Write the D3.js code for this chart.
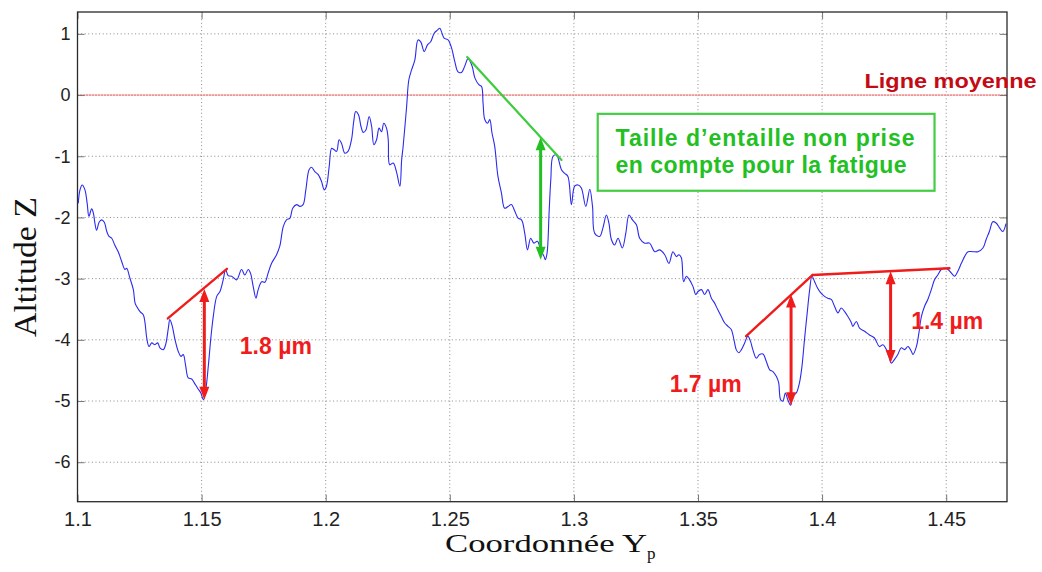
<!DOCTYPE html>
<html><head><meta charset="utf-8">
<script src="https://cdn.jsdelivr.net/npm/d3@7"></script>
<style>body{margin:0;background:#fff}svg{display:block}</style>
</head><body><svg id="c" width="1042" height="572"></svg>
<script>
// ---------- data ----------
const coordY = [1.1003,1.1010,1.1019,1.1030,1.1039,1.1046,1.1057,1.1064,1.1070,1.1077,1.1087,1.1097,1.1108,1.1118,1.1127,1.1138,1.1151,1.1164,1.1178,1.1191,1.1198,1.1211,1.1225,1.1232,1.1238,1.1252,1.1265,1.1272,1.1279,1.1288,1.1299,1.1312,1.1323,1.1332,1.1346,1.1355,1.1366,1.1372,1.1382,1.1393,1.1406,1.1417,1.1426,1.1436,1.1446,1.1460,1.1470,1.1484,1.1497,1.1507,1.1517,1.1527,1.1538,1.1547,1.1561,1.1574,1.1587,1.1597,1.1607,1.1621,1.1641,1.1661,1.1674,1.1688,1.1697,1.1708,1.1719,1.1728,1.1742,1.1755,1.1768,1.1782,1.1802,1.1815,1.1829,1.1842,1.1856,1.1867,1.1883,1.1896,1.1909,1.1920,1.1933,1.1943,1.1956,1.1970,1.1983,1.1994,1.2003,1.2014,1.2024,1.2033,1.2044,1.2054,1.2064,1.2077,1.2090,1.2104,1.2113,1.2121,1.2132,1.2142,1.2151,1.2162,1.2175,1.2185,1.2194,1.2205,1.2215,1.2225,1.2234,1.2245,1.2252,1.2258,1.2272,1.2285,1.2299,1.2306,1.2312,1.2326,1.2335,1.2346,1.2359,1.2372,1.2383,1.2397,1.2410,1.2423,1.2437,1.2450,1.2460,1.2466,1.2477,1.2493,1.2507,1.2520,1.2533,1.2547,1.2560,1.2574,1.2590,1.2601,1.2617,1.2628,1.2634,1.2641,1.2652,1.2661,1.2670,1.2681,1.2694,1.2708,1.2721,1.2735,1.2748,1.2762,1.2775,1.2789,1.2802,1.2813,1.2826,1.2839,1.2853,1.2866,1.2880,1.2885,1.2892,1.2900,1.2907,1.2916,1.2930,1.2950,1.2963,1.2976,1.2990,1.3003,1.3017,1.3030,1.3048,1.3064,1.3075,1.3084,1.3104,1.3117,1.3131,1.3141,1.3151,1.3164,1.3178,1.3195,1.3209,1.3222,1.3236,1.3252,1.3265,1.3285,1.3305,1.3326,1.3346,1.3366,1.3383,1.3399,1.3413,1.3423,1.3433,1.3442,1.3453,1.3466,1.3480,1.3491,1.3500,1.3514,1.3527,1.3540,1.3554,1.3567,1.3580,1.3594,1.3607,1.3621,1.3634,1.3645,1.3654,1.3664,1.3675,1.3688,1.3701,1.3712,1.3721,1.3735,1.3748,1.3762,1.3775,1.3789,1.3802,1.3816,1.3825,1.3833,1.3842,1.3852,1.3862,1.3873,1.3882,1.3896,1.3909,1.3919,1.3929,1.3940,1.3950,1.3959,1.3970,1.3981,1.3994,1.4010,1.4023,1.4037,1.4050,1.4064,1.4077,1.4091,1.4104,1.4118,1.4124,1.4138,1.4151,1.4171,1.4191,1.4211,1.4231,1.4245,1.4259,1.4269,1.4279,1.4292,1.4305,1.4319,1.4332,1.4346,1.4360,1.4366,1.4380,1.4390,1.4400,1.4413,1.4426,1.4440,1.4453,1.4466,1.4480,1.4493,1.4507,1.4521,1.4534,1.4547,1.4561,1.4574,1.4588,1.4608,1.4628,1.4648,1.4661,1.4674,1.4688,1.4701,1.4715,1.4728,1.4741];
const altitudeZ = [-1.77,-1.55,-1.47,-1.55,-1.77,-1.98,-1.86,-1.93,-2.09,-2.21,-2.08,-2.04,-2.08,-2.23,-2.31,-2.34,-2.46,-2.56,-2.72,-2.85,-2.83,-2.99,-3.18,-3.40,-3.45,-3.54,-3.59,-3.72,-3.97,-4.11,-4.05,-4.08,-4.05,-4.13,-4.16,-4.08,-3.81,-3.67,-3.78,-4.00,-4.19,-4.27,-4.24,-4.43,-4.62,-4.64,-4.70,-4.79,-4.87,-4.98,-4.81,-4.43,-3.94,-3.62,-3.29,-3.21,-3.02,-2.85,-2.95,-2.96,-3.02,-2.85,-2.94,-2.85,-2.91,-3.13,-3.32,-3.18,-3.05,-3.06,-2.91,-2.75,-2.61,-2.47,-2.15,-2.04,-2.01,-1.85,-1.79,-1.82,-1.79,-1.55,-1.22,-1.18,-1.25,-1.30,-1.41,-1.55,-1.49,-1.17,-0.87,-0.89,-0.92,-0.73,-0.79,-0.95,-0.92,-0.73,-0.43,-0.27,-0.32,-0.51,-0.61,-0.57,-0.35,-0.51,-0.81,-0.73,-0.54,-0.60,-0.46,-0.54,-0.73,-1.14,-1.11,-1.25,-1.49,-1.06,-0.84,-0.19,0.25,0.41,0.57,0.90,0.87,0.71,0.82,0.87,1.01,1.06,1.09,1.04,0.93,0.90,0.77,0.55,0.38,0.37,0.47,0.60,0.47,0.28,0.17,0.14,-0.13,-0.40,-0.46,-0.40,-0.62,-0.84,-1.33,-1.60,-1.85,-1.82,-1.79,-1.90,-2.01,-2.04,-2.26,-2.53,-2.34,-2.42,-2.39,-2.53,-2.64,-2.69,-2.58,-1.93,-1.38,-1.00,-0.98,-1.22,-1.28,-1.33,-1.79,-1.49,-1.47,-1.52,-1.82,-1.54,-1.82,-2.26,-2.31,-2.17,-1.96,-2.09,-2.36,-2.45,-2.34,-2.50,-2.26,-1.96,-2.04,-2.12,-2.34,-2.42,-2.42,-2.56,-2.53,-2.61,-2.75,-2.56,-2.64,-2.61,-2.66,-3.05,-2.96,-3.02,-3.13,-3.26,-3.21,-3.18,-3.26,-3.18,-3.32,-3.40,-3.51,-3.62,-3.72,-3.78,-3.83,-4.00,-4.16,-4.21,-4.16,-4.05,-3.94,-4.03,-4.16,-4.30,-4.24,-4.23,-4.35,-4.49,-4.52,-4.60,-4.70,-4.98,-5.00,-4.87,-4.98,-5.07,-4.92,-4.87,-4.70,-4.43,-4.00,-3.56,-3.18,-2.96,-3.05,-3.15,-3.23,-3.29,-3.32,-3.34,-3.45,-3.56,-3.48,-3.54,-3.62,-3.72,-3.78,-3.70,-3.81,-3.86,-3.92,-3.97,-4.11,-4.08,-4.16,-4.27,-4.38,-4.32,-4.24,-4.13,-4.16,-4.11,-4.19,-4.24,-4.11,-3.89,-3.62,-3.45,-3.34,-3.18,-3.02,-2.94,-2.85,-2.83,-2.85,-2.91,-2.96,-2.88,-2.75,-2.64,-2.56,-2.56,-2.56,-2.50,-2.36,-2.23,-2.07,-2.09,-2.17,-2.23,-2.10];

const xTicks = [1.1, 1.15, 1.2, 1.25, 1.3, 1.35, 1.4, 1.45];
const xTickLabels = ["1.1", "1.15", "1.2", "1.25", "1.3", "1.35", "1.4", "1.45"];
const yTicks = [-6, -5, -4, -3, -2, -1, 0, 1];
const yTickLabels = ["-6", "-5", "-4", "-3", "-2", "-1", "0", "1"];
const xDomain = [1.1, 1.4745];
const yDomain = [-6.645, 1.357];
const meanLevel = 0;

// annotations (data units)
const redSegments = [[1.1364, -3.65, 1.1602, -2.84], [1.3694, -3.94, 1.3962, -2.94], [1.3962, -2.94, 1.4513, -2.83]];
const redArrows = [[1.1511, -3.17, -4.98], [1.3875, -3.26, -5.07], [1.4276, -2.88, -4.38]];
const redLabels = ["1.8 µm", "1.7 µm", "1.4 µm"];
const redLabelAnchors = [[1.1654, -4.23], [1.3386, -4.85], [1.4359, -3.82]];
const greenSegment = [1.2570, 0.62, 1.2950, -1.06];
const greenArrow = [1.2866, -0.69, -2.69];
const greenBox = [1.3096, -0.307, 1.4453, -1.564];
const greenLines = ["Taille d’entaille non prise", "en compte pour la fatigue"];
const greenLineAnchors = [[1.3168, -0.84], [1.3168, -1.28]];
const meanLabel = "Ligne moyenne";
const meanLabelAnchor = [1.4171, 0.11];

// ---------- drawing ----------
const W = 1042, H = 572;
const m = {left: 77.5, top: 12, right: 35, bottom: 70.3};
const svg = d3.select("#c");
const x = d3.scaleLinear().domain(xDomain).range([m.left, W - m.right]);
const y = d3.scaleLinear().domain(yDomain).range([H - m.bottom, m.top]);
const sans = "'Liberation Sans', Arial, Helvetica, sans-serif";
const serif = "'Liberation Serif', 'Times New Roman', serif";

// grid
const grid = svg.append("g");
grid.selectAll(".gx").data(xTicks.slice(1)).join("line")
  .attr("x1", d => x(d)).attr("x2", d => x(d))
  .attr("y1", m.top).attr("y2", H - m.bottom)
  .attr("stroke", "#8a8a8a").attr("stroke-width", 1).attr("stroke-dasharray", "1,2.6");
grid.selectAll(".gy").data(yTicks.filter(d => d !== meanLevel)).join("line")
  .attr("y1", d => y(d)).attr("y2", d => y(d))
  .attr("x1", m.left).attr("x2", W - m.right)
  .attr("stroke", "#8a8a8a").attr("stroke-width", 1).attr("stroke-dasharray", "1,2.6");

// mean line
svg.append("line").attr("x1", m.left).attr("x2", W - m.right)
  .attr("y1", y(meanLevel)).attr("y2", y(meanLevel))
  .attr("stroke", "#f6b8b8").attr("stroke-width", 1.2);
svg.append("line").attr("x1", m.left).attr("x2", W - m.right)
  .attr("y1", y(meanLevel)).attr("y2", y(meanLevel))
  .attr("stroke", "#cc1111").attr("stroke-width", 1).attr("stroke-dasharray", "1,2");

// axes (ticks inside, labels)
const xAxis = d3.axisBottom(x).tickValues(xTicks).tickSize(-7).tickPadding(10)
  .tickFormat((d, i) => xTickLabels[i]);
const gx = svg.append("g").attr("transform", `translate(0,${H - m.bottom})`).call(xAxis);
gx.select(".domain").remove();
gx.selectAll(".tick line").attr("stroke", "#777");
gx.selectAll("text").attr("font-family", sans).attr("font-size", 20).attr("fill", "#222");
const xTop = d3.axisTop(x).tickValues(xTicks).tickSize(-7).tickFormat("");
const gxt = svg.append("g").attr("transform", `translate(0,${m.top})`).call(xTop);
gxt.select(".domain").remove(); gxt.selectAll(".tick line").attr("stroke", "#777");

const yAxis = d3.axisLeft(y).tickValues(yTicks).tickSize(-7).tickPadding(7)
  .tickFormat((d, i) => yTickLabels[i]);
const gy = svg.append("g").attr("transform", `translate(${m.left},0)`).call(yAxis);
gy.select(".domain").remove();
gy.selectAll(".tick line").attr("stroke", "#777");
gy.selectAll("text").attr("font-family", sans).attr("font-size", 18).attr("fill", "#222");
const yRight = d3.axisRight(y).tickValues(yTicks).tickSize(-7).tickFormat("");
const gyr = svg.append("g").attr("transform", `translate(${W - m.right},0)`).call(yRight);
gyr.select(".domain").remove(); gyr.selectAll(".tick line").attr("stroke", "#777");

// frame
svg.append("rect").attr("x", m.left).attr("y", m.top)
  .attr("width", W - m.left - m.right).attr("height", H - m.top - m.bottom)
  .attr("fill", "none").attr("stroke", "#2a2a2a").attr("stroke-width", 1.3);

// profile
const pts = coordY.map((v, i) => [v, altitudeZ[i]]);
svg.append("path").datum(pts)
  .attr("d", d3.line().x(d => x(d[0])).y(d => y(d[1])).curve(d3.curveCatmullRom.alpha(0.5)))
  .attr("fill", "none").attr("stroke", "#2a2af0").attr("stroke-width", 1.1);

// arrow helper
function dblArrow(g, ax, yt, yb, color) {
  const px = x(ax), pt = y(yt), pb = y(yb), hl = 13, hw = 5;
  g.append("line").attr("x1", px).attr("x2", px).attr("y1", pt + hl - 1).attr("y2", pb - hl + 1)
    .attr("stroke", color).attr("stroke-width", 3);
  g.append("path").attr("d", `M${px},${pt}L${px - hw},${pt + hl}L${px + hw},${pt + hl}Z`).attr("fill", color);
  g.append("path").attr("d", `M${px},${pb}L${px - hw},${pb - hl}L${px + hw},${pb - hl}Z`).attr("fill", color);
}

const red = "#f01c1c";
const ann = svg.append("g");
ann.selectAll(".rs").data(redSegments).join("line")
  .attr("x1", d => x(d[0])).attr("y1", d => y(d[1])).attr("x2", d => x(d[2])).attr("y2", d => y(d[3]))
  .attr("stroke", red).attr("stroke-width", 2.4).attr("stroke-linecap", "round");
redArrows.forEach(a => dblArrow(ann, a[0], a[1], a[2], red));
ann.selectAll(".rl").data(redLabels).join("text")
  .attr("x", (d, i) => x(redLabelAnchors[i][0])).attr("y", (d, i) => y(redLabelAnchors[i][1]))
  .attr("font-family", sans).attr("font-weight", "bold").attr("font-size", 23).attr("fill", red)
  .text(d => d);

const green = "#22c022";
ann.append("line")
  .attr("x1", x(greenSegment[0])).attr("y1", y(greenSegment[1]))
  .attr("x2", x(greenSegment[2])).attr("y2", y(greenSegment[3]))
  .attr("stroke", "#3ccc3c").attr("stroke-width", 2.2).attr("stroke-linecap", "round");
dblArrow(ann, greenArrow[0], greenArrow[1], greenArrow[2], green);
ann.append("rect")
  .attr("x", x(greenBox[0])).attr("y", y(greenBox[1]))
  .attr("width", x(greenBox[2]) - x(greenBox[0])).attr("height", y(greenBox[3]) - y(greenBox[1]))
  .attr("fill", "#fff").attr("stroke", "#44cc44").attr("stroke-width", 2.2);
const lineWidths = [299, 291];
ann.selectAll(".gl").data(greenLines).join("text")
  .attr("x", (d, i) => x(greenLineAnchors[i][0])).attr("y", (d, i) => y(greenLineAnchors[i][1]))
  .attr("font-family", sans).attr("font-weight", "bold").attr("font-size", 23).attr("fill", green)
  .attr("textLength", (d, i) => lineWidths[i]).attr("lengthAdjust", "spacing")
  .text(d => d);

svg.append("text").attr("x", x(meanLabelAnchor[0])).attr("y", y(meanLabelAnchor[1]))
  .attr("font-family", sans).attr("font-weight", "bold").attr("font-size", 21).attr("fill", "#c40a14")
  .attr("textLength", 172).attr("lengthAdjust", "spacingAndGlyphs")
  .text(meanLabel);

// axis titles
const xt = svg.append("text").attr("x", 445).attr("y", 552)
  .attr("font-family", serif).attr("font-size", 25).attr("fill", "#111");
xt.append("tspan").attr("textLength", 202).attr("lengthAdjust", "spacingAndGlyphs").text("Coordonnée Y");
xt.append("tspan").attr("dy", 7).attr("font-size", 17).text("p");

svg.append("text").attr("transform", "translate(36,267) rotate(-90)")
  .attr("text-anchor", "middle").attr("font-family", serif).attr("font-size", 32).attr("fill", "#111")
  .attr("textLength", 140).attr("lengthAdjust", "spacingAndGlyphs")
  .text("Altitude Z");
</script></body></html>
